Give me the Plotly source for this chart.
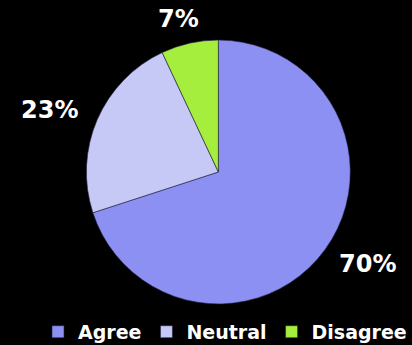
import math
import plotly.graph_objects as go

labels = ["Agree", "Neutral", "Disagree"]
values = [70, 23, 7]
colors = ["#8c90f2", "#c6c8f6", "#a6ee3e"]

FONT = "DejaVu Sans"
W, H = 412, 345

# pie placement (style)
dom_x = [0.18, 0.88]
dom_y = [0.119, 0.884]
# label distance from pie centre (px), horizontal / vertical
lab_rx, lab_ry = 184, 157

fig = go.Figure(go.Pie(
    labels=labels,
    values=values,
    sort=False,
    direction="clockwise",
    rotation=0,
    marker=dict(colors=colors, line=dict(color="#222244", width=0.6)),
    textinfo="none",
    domain=dict(x=dom_x, y=dom_y),
    showlegend=True,
    hoverinfo="label+percent",
))

# percentage labels placed outside each slice at its mid-angle
cx = (dom_x[0] + dom_x[1]) / 2 * W
cy = (dom_y[0] + dom_y[1]) / 2 * H
total = sum(values)
cum = 0
for lab, v in zip(labels, values):
    mid = (cum + v / 2) / total * 2 * math.pi
    cum += v
    px = cx + lab_rx * math.sin(mid)
    py = cy + lab_ry * math.cos(mid)
    fig.add_annotation(
        x=px / W, y=py / H, xref="paper", yref="paper",
        text=f"{round(v / total * 100)}%", showarrow=False,
        xanchor="center", yanchor="middle",
        font=dict(color="white", size=24, family=FONT, weight="bold"),
    )

fig.update_layout(
    width=W, height=H,
    margin=dict(l=0, r=0, t=0, b=0, autoexpand=False),
    paper_bgcolor="black",
    plot_bgcolor="black",
    font=dict(family=FONT, color="white", size=19, weight="bold"),
    legend=dict(
        orientation="h",
        x=1.0, xanchor="right",
        y=-0.017, yanchor="bottom",
        itemwidth=30,
        font=dict(size=19, color="white", family=FONT, weight="bold"),
        tracegroupgap=0,
    ),
)

fig.write_html("out.html")
